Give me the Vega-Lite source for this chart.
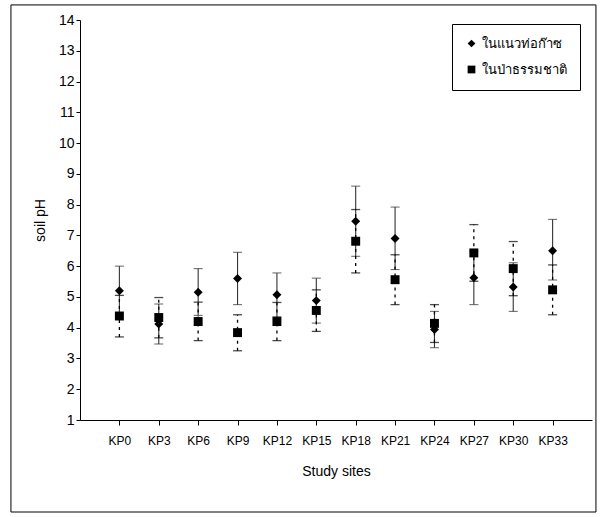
{
  "$schema": "https://vega.github.io/schema/vega-lite/v6.json",
  "width": 512,
  "height": 400,
  "autosize": {"type": "none"},
  "padding": {"left": 80, "top": 20, "right": 9, "bottom": 97},
  "background": "white",
  "config": {
    "view": {"stroke": null},
    "font": "Liberation Sans, Arial",
    "axis": {"grid": false, "domainColor": "black", "tickColor": "black", "labelColor": "black", "titleColor": "black", "labelFontSize": 12, "titleFontSize": 14, "titleFontWeight": "normal", "labelOverlap": false},
    "axisY": {"labelFontSize": 14, "titleFontSize": 14, "tickSize": 4, "labelPadding": 2, "titlePadding": 11},
    "axisX": {"tickSize": 5, "labelPadding": 10, "titlePadding": 18}
  },
  "data": {
    "values": [
      {"site": "KP0", "km": 0, "group": "ในแนวท่อก๊าซ", "mean": 5.2, "lo": 4.4, "hi": 6.0},
      {"site": "KP3", "km": 3, "group": "ในแนวท่อก๊าซ", "mean": 4.12, "lo": 3.47, "hi": 4.77},
      {"site": "KP6", "km": 6, "group": "ในแนวท่อก๊าซ", "mean": 5.15, "lo": 4.4, "hi": 5.92},
      {"site": "KP9", "km": 9, "group": "ในแนวท่อก๊าซ", "mean": 5.6, "lo": 4.75, "hi": 6.45},
      {"site": "KP12", "km": 12, "group": "ในแนวท่อก๊าซ", "mean": 5.07, "lo": 4.36, "hi": 5.78},
      {"site": "KP15", "km": 15, "group": "ในแนวท่อก๊าซ", "mean": 4.88, "lo": 4.15, "hi": 5.61},
      {"site": "KP18", "km": 18, "group": "ในแนวท่อก๊าซ", "mean": 7.46, "lo": 6.32, "hi": 8.6},
      {"site": "KP21", "km": 21, "group": "ในแนวท่อก๊าซ", "mean": 6.9, "lo": 5.89, "hi": 7.92},
      {"site": "KP24", "km": 24, "group": "ในแนวท่อก๊าซ", "mean": 3.94, "lo": 3.35, "hi": 4.53},
      {"site": "KP27", "km": 27, "group": "ในแนวท่อก๊าซ", "mean": 5.62, "lo": 4.75, "hi": 6.49},
      {"site": "KP30", "km": 30, "group": "ในแนวท่อก๊าซ", "mean": 5.32, "lo": 4.53, "hi": 6.11},
      {"site": "KP33", "km": 33, "group": "ในแนวท่อก๊าซ", "mean": 6.5, "lo": 5.55, "hi": 7.52},
      {"site": "KP0", "km": 0, "group": "ในป่าธรรมชาติ", "mean": 4.38, "lo": 3.7, "hi": 5.05},
      {"site": "KP3", "km": 3, "group": "ในป่าธรรมชาติ", "mean": 4.33, "lo": 3.67, "hi": 4.98},
      {"site": "KP6", "km": 6, "group": "ในป่าธรรมชาติ", "mean": 4.2, "lo": 3.58, "hi": 4.83},
      {"site": "KP9", "km": 9, "group": "ในป่าธรรมชาติ", "mean": 3.84, "lo": 3.25, "hi": 4.42},
      {"site": "KP12", "km": 12, "group": "ในป่าธรรมชาติ", "mean": 4.2, "lo": 3.58, "hi": 4.82},
      {"site": "KP15", "km": 15, "group": "ในป่าธรรมชาติ", "mean": 4.56, "lo": 3.88, "hi": 5.23},
      {"site": "KP18", "km": 18, "group": "ในป่าธรรมชาติ", "mean": 6.81, "lo": 5.78, "hi": 7.84},
      {"site": "KP21", "km": 21, "group": "ในป่าธรรมชาติ", "mean": 5.56, "lo": 4.75, "hi": 6.37},
      {"site": "KP24", "km": 24, "group": "ในป่าธรรมชาติ", "mean": 4.14, "lo": 3.52, "hi": 4.75},
      {"site": "KP27", "km": 27, "group": "ในป่าธรรมชาติ", "mean": 6.43, "lo": 5.51, "hi": 7.35},
      {"site": "KP30", "km": 30, "group": "ในป่าธรรมชาติ", "mean": 5.92, "lo": 5.04, "hi": 6.8},
      {"site": "KP33", "km": 33, "group": "ในป่าธรรมชาติ", "mean": 5.23, "lo": 4.42, "hi": 6.04}
    ]
  },
  "layer": [
    {
      "transform": [{"filter": "datum.group == 'ในแนวท่อก๊าซ'"}],
      "mark": {"type": "rule", "color": "#333333", "strokeWidth": 1.1},
      "encoding": {
        "x": {"field": "km", "type": "quantitative", "scale": {"domain": [-3, 36], "nice": false, "zero": false},
          "axis": {"values": [0, 3, 6, 9, 12, 15, 18, 21, 24, 27, 30, 33], "labelExpr": "'KP' + datum.value", "title": "Study sites"}},
        "y": {"field": "lo", "type": "quantitative", "scale": {"domain": [1, 14], "nice": false, "zero": false},
          "axis": {"tickCount": 13, "title": "soil pH", "labelOverlap": false, "labelFontSize": 14}},
        "y2": {"field": "hi"}
      }
    },
    {
      "transform": [{"filter": "datum.group == 'ในแนวท่อก๊าซ'"}, {"fold": ["lo", "hi"], "as": ["end", "val"]}],
      "mark": {"type": "tick", "orient": "horizontal", "color": "#333333", "size": 9, "thickness": 1.1},
      "encoding": {
        "x": {"field": "km", "type": "quantitative"},
        "y": {"field": "val", "type": "quantitative"}
      }
    },
    {
      "transform": [{"filter": "datum.group == 'ในป่าธรรมชาติ'"}],
      "mark": {"type": "rule", "color": "black", "strokeWidth": 1.3, "strokeDash": [3, 4]},
      "encoding": {
        "x": {"field": "km", "type": "quantitative"},
        "y": {"field": "lo", "type": "quantitative"},
        "y2": {"field": "hi"}
      }
    },
    {
      "transform": [{"filter": "datum.group == 'ในป่าธรรมชาติ'"}, {"fold": ["lo", "hi"], "as": ["end", "val"]}],
      "mark": {"type": "tick", "orient": "horizontal", "color": "black", "size": 9, "thickness": 1.3, "strokeDash": [2, 3]},
      "encoding": {
        "x": {"field": "km", "type": "quantitative"},
        "y": {"field": "val", "type": "quantitative"}
      }
    },
    {
      "mark": {"type": "point", "filled": true, "opacity": 1, "color": "black", "size": 80},
      "encoding": {
        "x": {"field": "km", "type": "quantitative"},
        "y": {"field": "mean", "type": "quantitative"},
        "shape": {"field": "group", "type": "nominal",
          "scale": {"domain": ["ในแนวท่อก๊าซ", "ในป่าธรรมชาติ"], "range": ["diamond", "square"]},
          "legend": {"orient": "none", "legendX": 372, "legendY": 4, "title": null, "strokeColor": "black", "fillColor": "white", "padding": 13, "labelFontSize": 13, "symbolSize": 60, "symbolFillColor": "black", "symbolStrokeColor": "black", "rowPadding": 11, "labelColor": "black"}
        }
      }
    },
    {
      "data": {"values": [{"frame": 1}]},
      "mark": {"type": "rect", "filled": false, "stroke": "black", "strokeWidth": 1, "clip": false},
      "encoding": {
        "x": {"datum": -8.26, "type": "quantitative"},
        "x2": {"datum": 36.3},
        "y": {"datum": 14.49, "type": "quantitative"},
        "y2": {"datum": -1.99}
      }
    }
  ]
}
